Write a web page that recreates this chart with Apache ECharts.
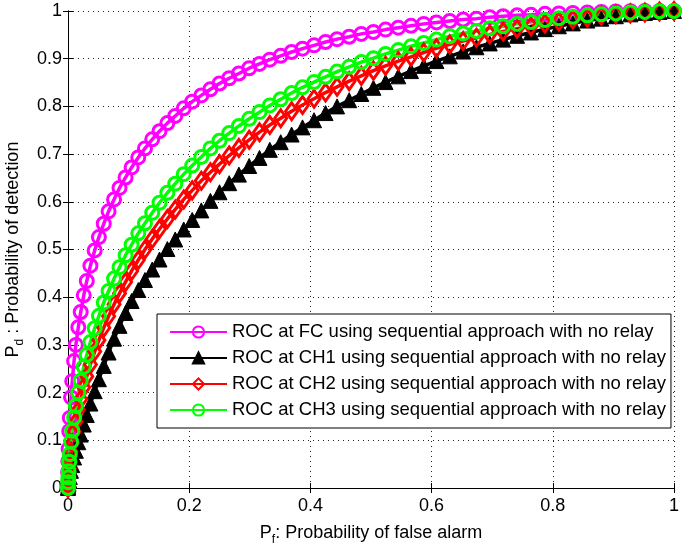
<!DOCTYPE html>
<html>
<head>
<meta charset="utf-8">
<script src="https://cdn.jsdelivr.net/npm/echarts@6/dist/echarts.min.js"></script>
<style>html,body{margin:0;padding:0;background:#fff}#c{width:685px;height:546px}</style>
</head>
<body>
<div id="c"></div>
<script>
// Probability of false alarm (shared sample points)
const pf = [0, 0.0002, 0.0005, 0.001, 0.002, 0.003, 0.005, 0.007, 0.01, 0.013, 0.017, 0.021, 0.026, 0.031, 0.037, 0.044, 0.051, 0.059, 0.067, 0.076, 0.085, 0.095, 0.105, 0.116, 0.127, 0.139, 0.151, 0.164, 0.177, 0.191, 0.205, 0.22, 0.235, 0.25, 0.266, 0.282, 0.299, 0.316, 0.333, 0.351, 0.369, 0.387, 0.406, 0.425, 0.444, 0.464, 0.484, 0.504, 0.524, 0.545, 0.566, 0.587, 0.608, 0.63, 0.652, 0.674, 0.696, 0.718, 0.741, 0.764, 0.787, 0.81, 0.833, 0.857, 0.88, 0.904, 0.928, 0.952, 0.976, 1];
// Probability of detection per curve
const pdFC = [0, 0.033, 0.056, 0.082, 0.119, 0.147, 0.19, 0.224, 0.266, 0.30, 0.337, 0.369, 0.404, 0.434, 0.466, 0.498, 0.526, 0.554, 0.58, 0.605, 0.629, 0.651, 0.672, 0.693, 0.712, 0.731, 0.748, 0.765, 0.78, 0.796, 0.81, 0.823, 0.836, 0.848, 0.859, 0.869, 0.88, 0.889, 0.898, 0.906, 0.914, 0.921, 0.928, 0.935, 0.941, 0.946, 0.952, 0.956, 0.961, 0.965, 0.969, 0.973, 0.976, 0.979, 0.982, 0.984, 0.987, 0.989, 0.991, 0.992, 0.994, 0.995, 0.996, 0.997, 0.998, 0.999, 0.9995, 1, 1, 1];
const pdCH1 = [0, 0.002, 0.005, 0.009, 0.016, 0.023, 0.036, 0.048, 0.064, 0.078, 0.096, 0.112, 0.133, 0.153, 0.177, 0.203, 0.228, 0.256, 0.284, 0.313, 0.34, 0.367, 0.392, 0.415, 0.436, 0.458, 0.479, 0.501, 0.521, 0.542, 0.562, 0.582, 0.602, 0.62, 0.639, 0.657, 0.675, 0.692, 0.709, 0.725, 0.741, 0.756, 0.771, 0.786, 0.8, 0.813, 0.826, 0.839, 0.851, 0.863, 0.874, 0.885, 0.895, 0.905, 0.915, 0.924, 0.932, 0.94, 0.948, 0.955, 0.962, 0.968, 0.974, 0.98, 0.984, 0.989, 0.993, 0.996, 0.998, 1];
const pdCH2 = [0, 0.008, 0.016, 0.026, 0.041, 0.054, 0.076, 0.094, 0.118, 0.139, 0.164, 0.186, 0.211, 0.234, 0.259, 0.286, 0.31, 0.336, 0.36, 0.385, 0.408, 0.432, 0.455, 0.478, 0.5, 0.522, 0.543, 0.564, 0.584, 0.605, 0.624, 0.644, 0.662, 0.679, 0.697, 0.713, 0.73, 0.746, 0.761, 0.775, 0.79, 0.803, 0.816, 0.829, 0.841, 0.853, 0.864, 0.875, 0.885, 0.895, 0.904, 0.913, 0.922, 0.93, 0.937, 0.944, 0.951, 0.957, 0.963, 0.968, 0.974, 0.978, 0.982, 0.986, 0.99, 0.993, 0.995, 0.997, 0.999, 1];
const pdCH3 = [0, 0.012, 0.022, 0.035, 0.055, 0.071, 0.097, 0.12, 0.148, 0.172, 0.20, 0.225, 0.254, 0.279, 0.306, 0.335, 0.361, 0.389, 0.413, 0.439, 0.463, 0.488, 0.51, 0.534, 0.555, 0.577, 0.598, 0.619, 0.638, 0.658, 0.676, 0.694, 0.712, 0.728, 0.744, 0.759, 0.774, 0.788, 0.802, 0.815, 0.828, 0.84, 0.851, 0.862, 0.873, 0.883, 0.893, 0.901, 0.91, 0.918, 0.926, 0.933, 0.94, 0.947, 0.953, 0.958, 0.964, 0.968, 0.973, 0.977, 0.981, 0.985, 0.988, 0.991, 0.993, 0.995, 0.997, 0.998, 0.9994, 1];
const seriesNames = ['ROC at FC using sequential approach with no relay', 'ROC at CH1 using sequential approach with no relay', 'ROC at CH2 using sequential approach with no relay', 'ROC at CH3 using sequential approach with no relay'];
const xTicks = [0, 0.2, 0.4, 0.6, 0.8, 1];
const yTicks = [0, 0.1, 0.2, 0.3, 0.4, 0.5, 0.6, 0.7, 0.8, 0.9, 1];

const font = 'Liberation Sans, Arial, Helvetica, sans-serif';
const pair = ys => pf.map((x, i) => [x, ys[i]]);
const fmt = v => String(Math.round(v * 10) / 10);

const chart = echarts.init(document.getElementById('c'), null, {renderer: 'canvas'});
const axisCommon = {
  type: 'value', min: 0, max: 1,
  axisLine: {show: true, lineStyle: {color: '#000', width: 1}},
  axisTick: {show: true, inside: true, length: 5, lineStyle: {color: '#000'}},
  splitLine: {show: false}
};
const rich = {
  p: {fontSize: 18, color: '#000', fontFamily: font, lineHeight: 22},
  s: {fontSize: 12, color: '#000', fontFamily: font, lineHeight: 22, padding: [14, 0, 0, 0]}
};
chart.setOption({
  animation: false,
  backgroundColor: '#fff',
  textStyle: {fontFamily: font},
  grid: {left: 68, right: 11, top: 11, bottom: 58, show: false, containLabel: false, outerBoundsMode: 'none'},
  xAxis: [
    Object.assign({}, axisCommon, {
      position: 'bottom', interval: 0.2,
      axisLabel: {color: '#000', fontSize: 18, fontFamily: font, margin: 9, formatter: fmt},
      splitLine: {show: true, lineStyle: {color: '#222', type: [1, 4], width: 1}},
      name: '{p|P}{s|f}{p|: Probability of false alarm}',
      nameLocation: 'middle', nameGap: 29,
      nameTextStyle: {rich: rich}
    }),
    Object.assign({}, axisCommon, {position: 'top', interval: 0.2, axisLabel: {show: false}})
  ],
  yAxis: [
    Object.assign({}, axisCommon, {
      position: 'left', interval: 0.1,
      axisLabel: {color: '#000', fontSize: 18, fontFamily: font, margin: 6, formatter: fmt},
      splitLine: {show: true, lineStyle: {color: '#222', type: [1, 4], width: 1}},
      name: '{p|P}{s|d}{p| : Probability of detection}',
      nameLocation: 'middle', nameGap: 42,
      nameTextStyle: {rich: rich}
    }),
    Object.assign({}, axisCommon, {position: 'right', interval: 0.1, axisLabel: {show: false}})
  ],
  legend: {
    orient: 'vertical', left: 157, top: 314,
    padding: [8, 5, 8, 12],
    itemWidth: 57, itemHeight: 14, itemGap: 6,
    backgroundColor: '#fff', borderColor: '#000', borderWidth: 1,
    textStyle: {fontSize: 18.5, color: '#000', fontFamily: font, lineHeight: 20},
    data: seriesNames
  },
  series: [
    {
      name: seriesNames[0], type: 'line', data: pair(pdFC),
      symbol: 'circle', symbolSize: 13,
      lineStyle: {color: '#ff00ff', width: 3.5},
      itemStyle: {color: 'rgba(255,255,255,0)', borderColor: '#ff00ff', borderWidth: 3}
    },
    {
      name: seriesNames[1], type: 'line', data: pair(pdCH1),
      symbol: 'triangle', symbolSize: 15,
      lineStyle: {color: '#000', width: 3.5},
      itemStyle: {color: '#000', borderColor: '#000', borderWidth: 1}
    },
    {
      name: seriesNames[2], type: 'line', data: pair(pdCH2),
      symbol: 'diamond', symbolSize: [12, 17],
      lineStyle: {color: '#ff0000', width: 3.5},
      itemStyle: {color: 'rgba(255,255,255,0)', borderColor: '#ff0000', borderWidth: 3}
    },
    {
      name: seriesNames[3], type: 'line', data: pair(pdCH3),
      symbol: 'circle', symbolSize: 13,
      lineStyle: {color: '#00ff00', width: 3.5},
      itemStyle: {color: 'rgba(255,255,255,0)', borderColor: '#00ff00', borderWidth: 3}
    }
  ]
});
</script>
</body>
</html>
